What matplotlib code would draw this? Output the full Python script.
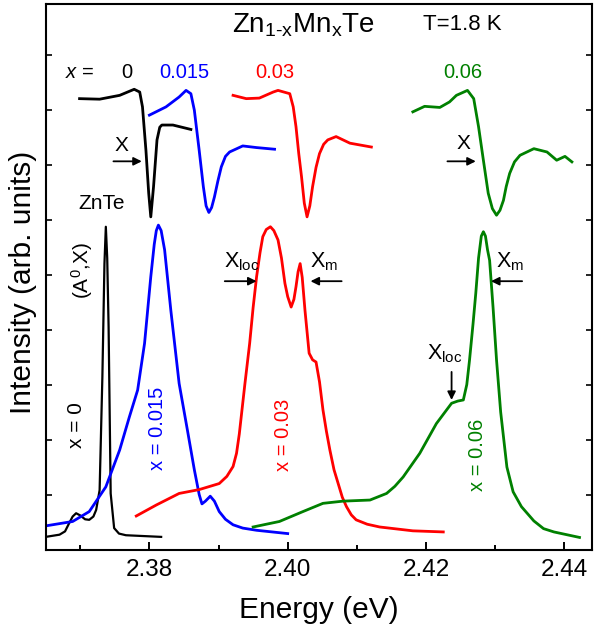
import matplotlib
matplotlib.use("Agg")
import matplotlib.pyplot as plt
from matplotlib.ticker import MultipleLocator, FormatStrFormatter

plt.rcParams['font.family'] = ['Liberation Sans', 'DejaVu Sans']
plt.rcParams['mathtext.fontset'] = 'custom'
plt.rcParams['mathtext.rm'] = 'Liberation Sans'
plt.rcParams['mathtext.it'] = 'Liberation Sans:italic'

# PL spectra (energy in eV, intensity in arb. units)
pl0_e = [2.3650, 2.3670, 2.3678, 2.3684, 2.3689, 2.3694, 2.3700, 2.3707, 2.3713, 2.3719,
         2.3723, 2.3728, 2.3732, 2.3735, 2.3737, 2.3739, 2.3741, 2.3744, 2.3749, 2.3756,
         2.3766, 2.3817]
pl0_i = [0.23, 0.27, 0.33, 0.48, 0.60, 0.66, 0.62, 0.55, 0.54, 0.60,
         0.72, 1.08, 3.14, 5.20, 5.87, 5.30, 4.05, 1.02, 0.39, 0.29,
         0.26, 0.23]

pl1_e = [2.3650, 2.3689, 2.3713, 2.3737, 2.3757, 2.3771, 2.3783, 2.3793, 2.3802, 2.3807,
         2.3810, 2.3813, 2.3817, 2.3822, 2.3831, 2.3843, 2.3855, 2.3865, 2.3872, 2.3876,
         2.3881, 2.3888, 2.3894, 2.3901, 2.3910, 2.3921, 2.3935, 2.3955, 2.4000]
pl1_i = [0.43, 0.51, 0.69, 1.14, 1.81, 2.41, 2.90, 3.75, 4.96, 5.55,
         5.80, 5.90, 5.80, 5.45, 4.35, 3.02, 2.17, 1.45, 1.00, 0.83,
         0.88, 0.97, 0.88, 0.69, 0.55, 0.45, 0.39, 0.35, 0.29]

pl3_e = [2.3781, 2.3810, 2.3843, 2.3872, 2.3901, 2.3912, 2.3921, 2.3926, 2.3930, 2.3938,
         2.3945, 2.3950, 2.3955, 2.3960, 2.3964, 2.3969, 2.3975, 2.3980, 2.3986, 2.3991,
         2.3996, 2.4000, 2.4005, 2.4009, 2.4012, 2.4015, 2.4018, 2.4021, 2.4025, 2.4031,
         2.4036, 2.4041, 2.4046, 2.4051, 2.4056, 2.4061, 2.4067, 2.4073, 2.4079, 2.4085,
         2.4092, 2.4099, 2.4115, 2.4133, 2.4181, 2.4225]
pl3_i = [0.61, 0.81, 1.02, 1.09, 1.20, 1.33, 1.51, 1.75, 2.10, 3.00,
         3.75, 4.40, 4.96, 5.40, 5.69, 5.82, 5.87, 5.80, 5.63, 5.30,
         4.84, 4.60, 4.41, 4.55, 4.78, 5.05, 5.20, 4.95, 4.35, 3.57,
         3.45, 3.41, 3.05, 2.54, 2.15, 1.81, 1.45, 1.20, 0.95, 0.78,
         0.63, 0.54, 0.46, 0.41, 0.34, 0.32]

pl6_e = [2.3950, 2.3988, 2.4022, 2.4051, 2.4080, 2.4119, 2.4143, 2.4155, 2.4167, 2.4191,
         2.4215, 2.4237, 2.4246, 2.4254, 2.4259, 2.4263, 2.4268, 2.4272, 2.4276, 2.4280,
         2.4283, 2.4286, 2.4289, 2.4292, 2.4297, 2.4302, 2.4308, 2.4317, 2.4326, 2.4338,
         2.4356, 2.4370, 2.4385, 2.4422]
pl6_i = [0.41, 0.51, 0.69, 0.84, 0.88, 0.90, 1.02, 1.15, 1.32, 1.75,
         2.29, 2.66, 2.70, 2.72, 3.00, 3.45, 4.10, 4.66, 5.30, 5.70,
         5.78, 5.70, 5.45, 5.26, 4.40, 3.45, 2.50, 1.50, 1.05, 0.78,
         0.52, 0.38, 0.32, 0.22]

# reflectance spectra (shifted up)
r0_e = [2.3699, 2.3728, 2.3757, 2.3778, 2.3786, 2.3790, 2.3795, 2.3799, 2.3802, 2.3806,
        2.3811, 2.3815, 2.3818, 2.3834, 2.3860]
r0_i = [8.20, 8.19, 8.26, 8.37, 8.32, 8.05, 7.26, 6.48, 6.05, 6.60,
        7.45, 7.68, 7.72, 7.72, 7.64]

r1_e = [2.3800, 2.3824, 2.3843, 2.3853, 2.3860, 2.3865, 2.3872, 2.3878, 2.3882, 2.3886,
        2.3890, 2.3894, 2.3899, 2.3904, 2.3910, 2.3916, 2.3935, 2.3955, 2.3981]
r1_i = [7.90, 8.05, 8.23, 8.35, 8.29, 7.99, 7.26, 6.60, 6.25, 6.13,
        6.22, 6.41, 6.70, 6.96, 7.15, 7.23, 7.34, 7.31, 7.28]

r3_e = [2.3921, 2.3940, 2.3959, 2.3979, 2.3986, 2.4003, 2.4008, 2.4012, 2.4016, 2.4020,
        2.4024, 2.4028, 2.4032, 2.4036, 2.4041, 2.4046, 2.4052, 2.4058, 2.4070, 2.4090,
        2.4121]
r3_i = [8.26, 8.20, 8.21, 8.32, 8.35, 8.29, 8.05, 7.69, 7.20, 6.78,
        6.30, 6.05, 6.25, 6.60, 6.95, 7.20, 7.37, 7.45, 7.51, 7.39,
        7.32]

r6_e = [2.4181, 2.4198, 2.4220, 2.4234, 2.4244, 2.4260, 2.4269, 2.4276, 2.4283, 2.4290,
        2.4296, 2.4302, 2.4307, 2.4312, 2.4316, 2.4321, 2.4328, 2.4336, 2.4356, 2.4375,
        2.4389, 2.4401, 2.4411]
r6_i = [7.96, 8.06, 8.04, 8.14, 8.26, 8.35, 8.20, 7.69, 7.08, 6.48,
        6.20, 6.08, 6.17, 6.35, 6.60, 6.84, 7.05, 7.17, 7.29, 7.23,
        7.08, 7.15, 7.05]

fig = plt.figure(figsize=(6.09, 6.35), dpi=100)
ax = fig.add_axes([0.075, 0.1346, 0.897, 0.859])

ax.plot(pl0_e, pl0_i, color='black', lw=1.6)
ax.plot(pl1_e, pl1_i, color='#0000ff', lw=2.0)
ax.plot(pl3_e, pl3_i, color='#ff0000', lw=2.0)
ax.plot(pl6_e, pl6_i, color='#008000', lw=2.0)
ax.plot(r0_e, r0_i, color='black', lw=2.0)
ax.plot(r1_e, r1_i, color='#0000ff', lw=2.0)
ax.plot(r3_e, r3_i, color='#ff0000', lw=2.0)
ax.plot(r6_e, r6_i, color='#008000', lw=2.0)

ax.set_xlim(2.365, 2.444)
ax.set_ylim(0, 9.92)
ax.xaxis.set_major_locator(MultipleLocator(0.02))
ax.xaxis.set_minor_locator(MultipleLocator(0.01))
ax.xaxis.set_major_formatter(FormatStrFormatter('%.2f'))
ax.yaxis.set_major_locator(MultipleLocator(1))
ax.tick_params(axis='x', which='major', direction='in', length=6, width=1.4, labelsize=17.5, pad=7)
ax.tick_params(axis='x', which='minor', direction='in', length=3.5, width=1.4)
ax.tick_params(axis='y', which='both', direction='in', length=4, width=1.2, left=True, right=True, labelleft=False)
for s in ax.spines.values():
    s.set_linewidth(1.5)

ax.set_xlabel('Energy (eV)', fontsize=21.5)
ax.set_ylabel('Intensity (arb. units)', fontsize=21.5)
ax.xaxis.set_label_coords(0.5, -0.085)
ax.yaxis.set_label_coords(-0.015, 0.49)

# labels
ax.text(2.4022, 9.54, r'Zn$_{\text{1-x}}$Mn$_{\text{x}}$Te', fontsize=20, ha='center', va='center')
ax.text(2.4252, 9.54, 'T=1.8 K', fontsize=16, ha='center', va='center')
ax.text(2.3699, 8.68, r'$x$ =', fontsize=14.5, ha='center', va='center')
ax.text(2.3768, 8.68, '0', fontsize=14.5, ha='center', va='center', color='black')
ax.text(2.3851, 8.68, '0.015', fontsize=14.5, ha='center', va='center', color='#0000ff')
ax.text(2.3981, 8.68, '0.03', fontsize=14.5, ha='center', va='center', color='#ff0000')
ax.text(2.4253, 8.68, '0.06', fontsize=14.5, ha='center', va='center', color='#008000')

ax.text(2.3731, 6.30, 'ZnTe', fontsize=15, ha='center', va='center')
ax.text(2.3703, 5.08, r'(A$^{\text{0}}$,X)', fontsize=15, ha='center', va='center', rotation=90)
ax.text(2.3694, 2.26, 'x = 0', fontsize=15, ha='center', va='center', rotation=90)
ax.text(2.3812, 2.21, 'x = 0.015', fontsize=14.5, ha='center', va='center', rotation=90, color='#0000ff')
ax.text(2.3994, 2.08, 'x = 0.03', fontsize=14.5, ha='center', va='center', rotation=90, color='#ff0000')
ax.text(2.4275, 1.72, 'x = 0.06', fontsize=14.5, ha='center', va='center', rotation=90, color='#008000')

arw = dict(arrowstyle='-|>', color='black', lw=1.3, mutation_scale=12, shrinkA=0, shrinkB=0)
ax.text(2.3759, 7.35, 'X', fontsize=15, ha='center', va='center')
ax.annotate('', xy=(2.3789, 7.06), xytext=(2.3748, 7.06), arrowprops=arw)
ax.text(2.4254, 7.39, 'X', fontsize=15, ha='center', va='center')
ax.annotate('', xy=(2.4272, 7.06), xytext=(2.4231, 7.06), arrowprops=arw)

ax.text(2.3933, 5.23, r'X$_{\text{loc}}$', fontsize=15.5, ha='center', va='center')
ax.annotate('', xy=(2.3955, 4.88), xytext=(2.3909, 4.88), arrowprops=arw)
ax.text(2.4053, 5.23, r'X$_{\text{m}}$', fontsize=15.5, ha='center', va='center')
ax.annotate('', xy=(2.4033, 4.88), xytext=(2.4078, 4.88), arrowprops=arw)
ax.text(2.4321, 5.23, r'X$_{\text{m}}$', fontsize=15.5, ha='center', va='center')
ax.annotate('', xy=(2.4294, 4.88), xytext=(2.4339, 4.88), arrowprops=arw)
ax.text(2.4227, 3.57, r'X$_{\text{loc}}$', fontsize=15.5, ha='center', va='center')
ax.annotate('', xy=(2.4237, 2.72), xytext=(2.4237, 3.23), arrowprops=arw)

fig.savefig('out.png', dpi=100)
